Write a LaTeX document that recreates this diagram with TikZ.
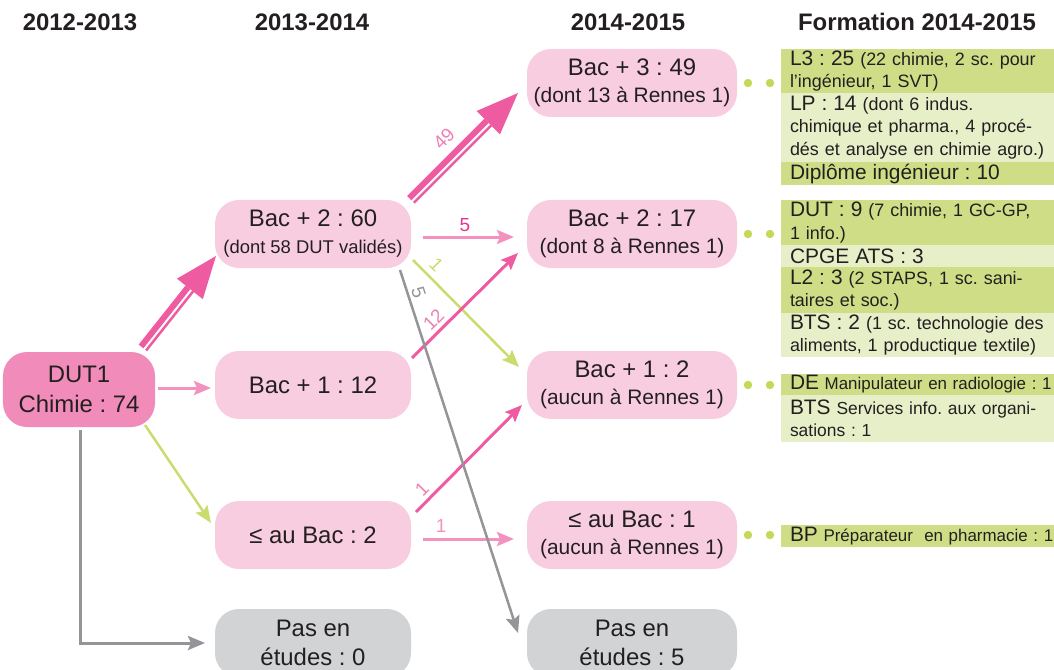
\documentclass[tikz,border=0pt]{standalone}
\usepackage{fontspec}
\setmainfont{Liberation Sans}
\usetikzlibrary{calc,arrows.meta}
\frenchspacing
\definecolor{txt}{HTML}{231F20}
\definecolor{dpink}{HTML}{F18CBA}
\definecolor{lpink}{HTML}{F8CDE0}
\definecolor{ngray}{HTML}{D1D3D4}
\definecolor{spink}{HTML}{EE5BA0}
\definecolor{mpink}{HTML}{F07EB4}
\definecolor{lapink}{HTML}{F392BF}
\definecolor{magfive}{HTML}{E8338F}
\definecolor{agreen}{HTML}{C9DC6E}
\definecolor{agray}{HTML}{939598}
\definecolor{gdot}{HTML}{C3D957}
\definecolor{gdark}{HTML}{CFDE86}
\definecolor{glight}{HTML}{E7EFC8}

\newcommand\Bt[1]{{\fontsize{21}{22.5}\selectfont #1}}
\newcommand\Sm[1]{{\fontsize{21}{26}\selectfont #1}}
\newcommand\bigarr[3]{%
  \coordinate (bb) at ($(#2)!42bp!(#1)$);
  \fill[#3] (#2) -- ($(bb)!16.5bp!90:(#2)$) -- ($(bb)!16.5bp!-90:(#2)$) -- cycle;
  \draw[#3, line width=6bp] ($(#1)!2.5bp!90:(#2)$) -- ($(bb)!2.5bp!-90:(#1)$);
  \draw[#3, line width=2.5bp] ($(#1)!4bp!-90:(#2)$) -- ($(bb)!4bp!90:(#1)$);
}

\tikzset{
 nd/.style={rounded corners=24bp, minimum width=196bp, minimum height=68bp, inner sep=0pt, outer sep=0pt, align=center, text=txt, font=\fontsize{24}{27}\selectfont, fill=lpink},
 ndr/.style={nd, minimum width=210bp},
 hd/.style={font=\bfseries\fontsize{24}{28}\selectfont, text=txt, inner sep=0pt},
 fb/.style={anchor=north west, inner xsep=9bp, inner ysep=0pt, outer sep=0pt, text width=280bp, align=left, text=txt, font=\fontsize{18}{22.5}\selectfont},
 fdark/.style={fb, fill=gdark},
 flight/.style={fb, fill=glight},
 tharr/.style={line width=3bp, -{Stealth[length=17bp,width=14bp,inset=3bp]}},
 lab/.style={inner sep=0pt, font=\fontsize{19}{19}\selectfont},
}

\begin{document}
\begin{tikzpicture}[x=1bp,y=-1bp]
\useasboundingbox (0,0) rectangle (1054,670);
\clip (0,0) rectangle (1054,670);

% headers
\node[hd] (h1) at (80,22) {2012-2013};
\node[hd] (h2) at (312,22) {2013-2014};
\node[hd] (h3) at (628,22) {2014-2015};
\node[hd] (h4) at (917,22) {Formation 2014-2015};

% nodes
\node[nd, fill=dpink, minimum width=152bp, minimum height=75bp, font=\fontsize{24}{30}\selectfont] (dut) at (79,389.5) {DUT1\\Chimie : 74};
\node[nd] (b260) at (313,234) {Bac + 2 : 60\\{\fontsize{18.5}{22}\selectfont (dont 58 DUT validés)}};
\node[nd] (b112) at (313,385) {Bac + 1 : 12};
\node[nd] (bac2) at (313,535) {≤ au Bac : 2};
\node[nd, fill=ngray, font=\fontsize{24}{29}\selectfont] (pas0) at (313,643) {Pas en\\études : 0};

\node[ndr] (b349) at (632,83) {Bac + 3 : 49\\\Sm{(dont 13 à Rennes 1)}};
\node[ndr] (b217) at (632,234) {Bac + 2 : 17\\\Sm{(dont 8 à Rennes 1)}};
\node[ndr] (b12) at (632,385) {Bac + 1 : 2\\\Sm{(aucun à Rennes 1)}};
\node[ndr] (bac1) at (632,535) {≤ au Bac : 1\\\Sm{(aucun à Rennes 1)}};
\node[ndr, fill=ngray, font=\fontsize{24}{29}\selectfont] (pas5) at (632,643) {Pas en\\études : 5};

% formation boxes
\node[fdark, minimum height=44bp] (l3) at (781,49) {\Bt{L3 : 25} (22 chimie, 2 sc. pour\\l’ingénieur, 1 SVT)};
\node[flight, minimum height=69bp] (lp) at (l3.south west) {\Bt{LP : 14} (dont 6 indus.\\chimique et pharma., 4 procé-\\dés et analyse en chimie agro.)};
\node[fdark, minimum height=23bp] (dip) at (lp.south west) {\Bt{Diplôme ingénieur : 10}};

\node[fdark, minimum height=45bp] (dutf) at (781,200) {\Bt{DUT : 9} (7 chimie, 1 GC-GP,\\1 info.)};
\node[flight, minimum height=22bp] (cpge) at (dutf.south west) {\Bt{CPGE ATS : 3}};
\node[fdark, minimum height=46bp] (l2) at (cpge.south west) {\Bt{L2 : 3} (2 STAPS, 1 sc. sani-\\taires et soc.)};
\node[flight, minimum height=44bp] (bts) at (l2.south west) {\Bt{BTS : 2} (1 sc. technologie des\\aliments, 1 productique textile)};

\node[fdark, minimum height=21bp, font=\fontsize{17}{22.5}\selectfont] (de) at (781,374) {\Bt{DE} Manipulateur en radiologie : 1};
\node[flight, minimum height=47bp, font=\fontsize{17.5}{22.5}\selectfont] (btss) at (de.south west) {\Bt{BTS} Services info. aux organi-\\sations : 1};

\node[fdark, minimum height=22bp, font=\fontsize{17}{22.5}\selectfont] (bp) at (781,525) {\Bt{BP} Préparateur\ \ en pharmacie : 1};

% dots
\foreach \n in {b349,b217,b12,bac1} {
  \fill[gdot] ($(\n.east)+(11,0)$) circle (4.2bp);
  \fill[gdot] ($(\n.east)+(33,0)$) circle (4.2bp);
}

% big arrows
\coordinate (s60) at ($(dut.north east)+(-12,-4)$);
\coordinate (t60) at ($(b260.south west)+(1,-12)$);
\bigarr{s60}{t60}{spink}
\coordinate (s49) at (b260.north east);
\coordinate (t49) at ($(b349.west)+(-9,10)$);
\bigarr{s49}{t49}{spink}
\path (s49) -- (t49) node[lab, pos=0.44, sloped, above=13bp, text=mpink] {49};

% thin arrows
\draw[tharr, lapink] ($(b260.east)+(12,3)$) -- node[lab, pos=0.46, above=4bp, text=magfive] {5} ($(b217.west)+(-13,3)$);
\draw[tharr, line width=2.5bp, agreen] ($(b260.south east)+(2,-8)$) -- node[lab, pos=0.13, sloped, above=6bp, text=agreen] {1} ($(b12.north west)+(-8,16)$);
\draw[tharr, spink] ($(b112.north east)+(1,7)$) -- node[lab, pos=0.284, sloped, above=4bp, text=mpink] {12} ($(b217.south west)+(-9,-15)$);
\draw[tharr, spink] ($(bac2.north east)+(5,11)$) -- node[lab, pos=0.136, sloped, above=4bp, text=mpink] {1} ($(b12.south west)+(-5,-14)$);
\draw[tharr, lapink] ($(bac2.east)+(12,4)$) -- node[lab, pos=0.2, above=5bp, text=lapink] {1} ($(bac1.west)+(-13,4)$);
\draw[tharr, lapink] ($(dut.east)+(3,-1.5)$) -- ($(b112.west)+(-4,3)$);
\draw[tharr, line width=2.5bp, agreen] ($(dut.south east)+(-10,-2)$) -- ($(bac2.west)+(-4,-12)$);
\draw[tharr, line width=2.5bp, agray] ($(b260.south east)+(-11,2)$) -- node[lab, pos=0.071, sloped, above=3bp, text=agray] {5} ($(pas5.north west)+(-9,24)$);
\draw[tharr, line width=3bp, agray] ($(dut.south)+(1,3)$) |- ($(pas0.west)+(-10,0)$);
\end{tikzpicture}
\end{document}
